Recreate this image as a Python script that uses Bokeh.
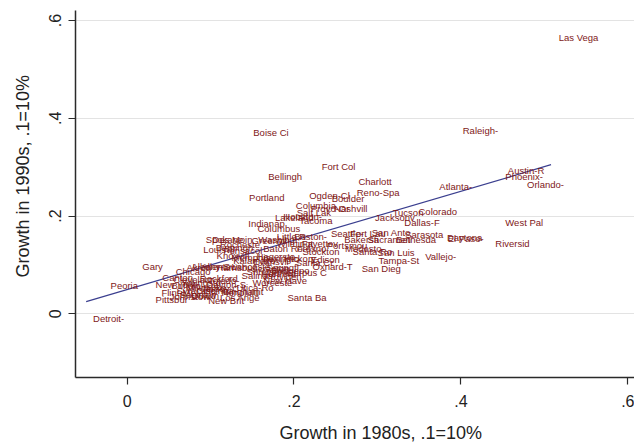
from bokeh.plotting import figure
from bokeh.models import Range1d, FixedTicker, Title, ColumnDataSource
from bokeh.core.properties import value
from bokeh.embed import file_html
from bokeh.resources import INLINE

# ---- data (growth 1980s vs growth 1990s) ----
cities = [
    "Las Vega", "Boise Ci", "Raleigh-", "Fort Col", "Bellingh", "Charlott", "Reno-Spa",
    "Atlanta-", "Austin-R", "Phoenix-", "Orlando-", "Portland", "Ogden-Cl", "Boulder",
    "Columbia", "Nashvill", "Salt Lak", "Provo-Or", "Tucson", "Colorado", "Jacksonv",
    "Dallas-F", "West Pal", "Riversid", "Lakeland", "Tacoma", "Houston-", "Indianap",
    "Columbus", "Little R", "Boston-", "Seattle-", "Fort Lau", "San Anto", "Sarasota",
    "Bakersfi", "Sacramen", "Bethesda", "Daytona", "El Paso-", "Modesto-", "Santa Ro",
    "San Luis", "Vallejo-", "Tampa-St", "San Dieg", "Stockton", "Edison", "Oxnard-T",
    "Santa Cr", "Santa Ba", "Worceste", "New Brit", "Los Ange", "Pittsbur", "Detroit-",
    "Peoria", "Gary", "Chicago", "Canton", "New York", "Akron", "Spokane", "Des Moin",
    "Louisvil", "Birmingh", "Greenvil", "Washingt", "Wilmingt", "Baton Ro", "Fresno",
    "Fayettev", "Portsmou", "Pensacol", "Rocheste", "Knoxvill", "Memphis-", "Hagersto",
    "Kalamazo", "Evansvil", "Lexingto", "Hickory-", "Albany-S", "Allentow", "Harrisbu",
    "Lancaste", "Scranton", "Springfi", "Salinas-", "Rockford", "Toledo-", "Clevelan",
    "Youngsto", "Buffalo-", "Dayton-S", "Milwauke", "Cincinna", "Utica-Ro", "Binghamt",
    "Flint-MI", "Saginaw", "Johnstow", "Syracuse", "Honolulu", "Shrevepo", "Hartford",
    "Providen", "New Have", "Corpus C", "Bridgepo", "Duluth", "Jersey C",
]
growth_1980s = [
    0.516, 0.150, 0.401, 0.232, 0.168, 0.276, 0.274,
    0.373, 0.455, 0.452, 0.478, 0.145, 0.217, 0.244,
    0.201, 0.247, 0.202, 0.219, 0.317, 0.348, 0.296,
    0.331, 0.452, 0.440, 0.176, 0.205, 0.186, 0.144,
    0.155, 0.178, 0.199, 0.243, 0.266, 0.292, 0.332,
    0.259, 0.287, 0.321, 0.382, 0.383, 0.260, 0.269,
    0.299, 0.356, 0.300, 0.280, 0.209, 0.219, 0.221,
    0.201, 0.191, 0.149, 0.096, 0.110, 0.033, -0.042,
    -0.021, 0.017, 0.057, 0.041, 0.033, 0.070, 0.093, 0.101,
    0.090, 0.105, 0.148, 0.156, 0.178, 0.162, 0.202,
    0.208, 0.238, 0.114, 0.110, 0.106, 0.124, 0.154,
    0.126, 0.150, 0.162, 0.187, 0.076, 0.088, 0.106,
    0.124, 0.148, 0.166, 0.136, 0.086, 0.096, 0.054,
    0.064, 0.052, 0.094, 0.070, 0.082, 0.130, 0.114,
    0.040, 0.062, 0.050, 0.058, 0.112, 0.142, 0.160,
    0.163, 0.162, 0.190, 0.172, 0.076, 0.088,
]
growth_1990s = [
    0.566, 0.370, 0.375, 0.302, 0.281, 0.271, 0.249,
    0.260, 0.293, 0.281, 0.264, 0.237, 0.241, 0.236,
    0.222, 0.216, 0.208, 0.215, 0.207, 0.209, 0.196,
    0.186, 0.186, 0.144, 0.196, 0.191, 0.199, 0.184,
    0.174, 0.158, 0.158, 0.164, 0.164, 0.167, 0.162,
    0.151, 0.151, 0.151, 0.157, 0.155, 0.133, 0.128,
    0.126, 0.117, 0.109, 0.093, 0.128, 0.112, 0.097,
    0.105, 0.033, 0.065, 0.027, 0.033, 0.029, -0.010,
    0.058, 0.096, 0.087, 0.074, 0.059, 0.095, 0.153, 0.153,
    0.131, 0.136, 0.149, 0.153, 0.143, 0.133, 0.133,
    0.144, 0.140, 0.129, 0.142, 0.119, 0.115, 0.117,
    0.109, 0.107, 0.113, 0.113, 0.097, 0.097, 0.095,
    0.097, 0.093, 0.095, 0.078, 0.072, 0.068, 0.070,
    0.064, 0.058, 0.060, 0.054, 0.048, 0.054, 0.046,
    0.044, 0.039, 0.035, 0.048, 0.044, 0.087, 0.082,
    0.076, 0.068, 0.084, 0.089, 0.037, 0.052,
]
# fitted line (linear fit) end points
fit_x = [-0.049, 0.508]
fit_y = [0.025, 0.305]

tick_values = [0, 0.2, 0.4, 0.6]
tick_labels = ["0", ".2", ".4", ".6"]
x_title = "Growth in 1980s, .1=10%"
y_title = "Growth in 1990s, .1=10%"

LABEL_COLOR = "#801818"
LINE_COLOR = "#3b3f8f"
AXIS_COLOR = "#2a2a2a"
FONT = "Liberation Sans"

p = figure(width=634, height=443, output_backend="svg", toolbar_location=None,
           x_range=Range1d(-0.0618, 0.608), y_range=Range1d(-0.1303, 0.6204),
           min_border_left=75, min_border_right=0, min_border_top=10,
           min_border_bottom=66)
p.outline_line_color = None
p.background_fill_color = "white"
p.border_fill_color = "white"

src = ColumnDataSource(dict(x=growth_1980s, y=growth_1990s, name=cities))
p.line(fit_x, fit_y, line_color=LINE_COLOR, line_width=1.2)
p.text(x="x", y="y", text="name", source=src, text_font=value(FONT),
       text_font_size="9.5px", text_color=LABEL_COLOR, text_align="left",
       text_baseline="middle", x_offset=1)

overrides = {v: t for v, t in zip(tick_values, tick_labels)}
for ax in (p.xaxis[0], p.yaxis[0]):
    ax.ticker = FixedTicker(ticks=tick_values)
    ax.major_label_overrides = overrides
    ax.minor_tick_line_color = None
    ax.major_tick_in = 0
    ax.major_tick_out = 7
    ax.axis_line_color = AXIS_COLOR
    ax.axis_line_width = 1.5
    ax.major_tick_line_color = AXIS_COLOR
    ax.major_tick_line_width = 1.2
    ax.major_label_text_font = FONT
    ax.major_label_text_font_size = "16px"
    ax.major_label_text_color = "#222222"
p.xaxis[0].major_label_standoff = 10
p.yaxis[0].major_label_standoff = 7
p.yaxis[0].major_label_orientation = "vertical"

p.xgrid.grid_line_color = None
p.ygrid.ticker = FixedTicker(ticks=tick_values)
p.ygrid.grid_line_color = "#e3e3e3"
p.ygrid.grid_line_width = 1

# blank spacers + titles (placed to match the reference positions)
p.add_layout(Title(text=" ", text_color="white", text_font_size="1px", standoff=15), "below")
p.add_layout(Title(text=x_title, align="left", offset=204, standoff=-14,
                   vertical_align="bottom", text_font=FONT, text_font_size="18px",
                   text_font_style="normal", text_color="#222222"), "below")
p.add_layout(Title(text=" ", text_color="white", text_font_size="1px", standoff=11), "left")
p.add_layout(Title(text=y_title, align="left", offset=100, standoff=0,
                   vertical_align="bottom", text_font=FONT, text_font_size="18px",
                   text_font_style="normal", text_color="#222222"), "left")

open("out.html", "w").write(file_html(p, INLINE))
